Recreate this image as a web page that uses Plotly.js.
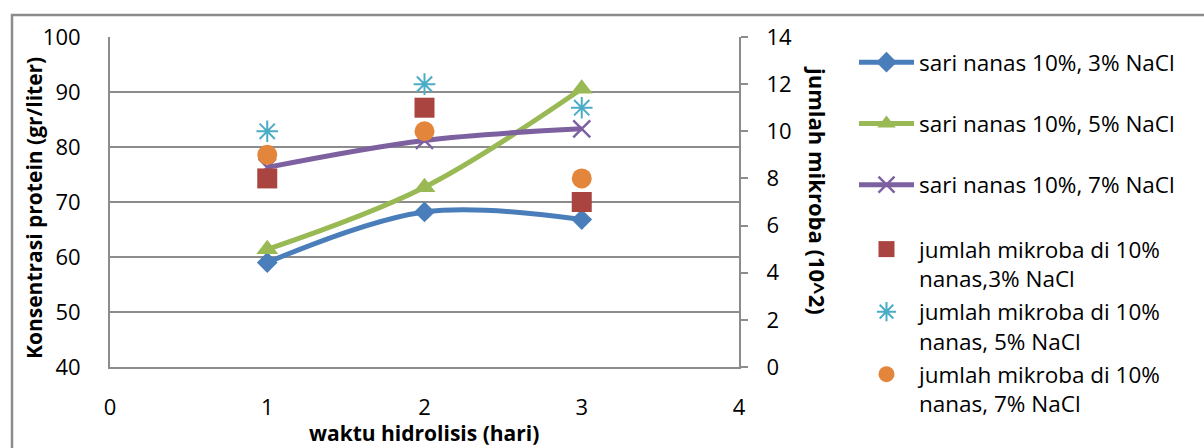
<!DOCTYPE html>
<html>
<head>
<meta charset="utf-8">
<script src="https://cdn.plot.ly/plotly-3.0.1.min.js"></script>
<style>html,body{margin:0;padding:0;background:#fff;} #chart{width:1204px;height:448px;}</style>
</head>
<body>
<div id="chart"></div>
<script>
// Data
const days = [1, 2, 3];
const protein3 = [59.0, 68.2, 66.8];
const protein5 = [61.4, 72.7, 90.6];
const protein7 = [76.3, 81.2, 83.3];
const mikroba3 = [8, 11, 7];
const mikroba5 = [10, 12, 11];
const mikroba7 = [9, 10, 8];
const xTicks = [0, 1, 2, 3, 4];

const FONT = 'Open Sans, sans-serif';
const FS = 22;
const GRAY = '#8c8c8c';

// plot area pixel geometry (from reference)
const PL = 110, PR = 739, PT = 37, PB = 367;
const px = v => (v - PL) / (PR - PL);
const py = v => (PB - v) / (PB - PT);

const lineTrace = (y, name, color, symbol, msize, grp) => ({
  x: days, y: y, name: name, type: 'scatter', mode: 'lines+markers',
  line: {color: color, width: 5, shape: 'spline', smoothing: 1},
  marker: {symbol: symbol, size: msize, color: color, line: {color: color, width: symbol.indexOf('open') >= 0 ? 2.4 : 0}},
  legend: 'legend', legendgroup: grp, xaxis: 'x', yaxis: 'y'
});
const markTrace = (y, name, color, symbol, msize, grp) => ({
  x: days, y: y, name: name, type: 'scatter', mode: 'markers',
  marker: {symbol: symbol, size: msize, color: color, line: {color: color, width: symbol.indexOf('open') >= 0 ? 2 : 0}},
  legend: 'legend2', legendgroup: grp, xaxis: 'x', yaxis: 'y2'
});

const data = [
  lineTrace(protein3, 'sari nanas 10%, 3% NaCl', '#4A7EBB', 'diamond', 16, 'a'),
  lineTrace(protein5, 'sari nanas 10%, 5% NaCl', '#98B954', 'triangle-up', 19, 'b'),
  lineTrace(protein7, 'sari nanas 10%, 7% NaCl', '#7D60A0', 'x-thin-open', 17, 'c'),
  markTrace(mikroba3, 'jumlah mikroba di 10%<br>nanas,3% NaCl', '#AA4441', 'square', 20, 'd'),
  markTrace(mikroba5, 'jumlah mikroba di 10%<br>nanas, 5% NaCl', '#4BACC6', 'asterisk-open', 18, 'e'),
  markTrace(mikroba7, 'jumlah mikroba di 10%<br>nanas, 7% NaCl', '#E3853A', 'circle', 20, 'f')
];

const layout = {
  width: 1204, height: 448,
  margin: {l: PL, r: 1204 - PR, t: PT, b: 448 - PB, pad: 0},
  paper_bgcolor: '#fff', plot_bgcolor: '#fff',
  font: {family: FONT, size: FS, color: '#000'},
  showlegend: true,
  xaxis: {
    range: [0, 4], tickvals: xTicks, ticktext: xTicks.map(String),
    showgrid: false, zeroline: false, showline: true, linecolor: GRAY, linewidth: 2,
    ticks: '', ticklabelstandoff: 20, tickfont: {family: FONT, size: FS}, fixedrange: true
  },
  yaxis: {
    range: [40, 100], dtick: 10, tick0: 40,
    showgrid: true, gridcolor: GRAY, gridwidth: 2, zeroline: false,
    showline: true, linecolor: GRAY, linewidth: 2, ticks: '',
    ticklabelstandoff: 23, tickfont: {family: FONT, size: FS}
  },
  yaxis2: {
    range: [0, 14], dtick: 2, tick0: 0, overlaying: 'y', side: 'right',
    showgrid: false, zeroline: false, showline: true, linecolor: GRAY, linewidth: 2,
    ticks: 'outside', ticklen: 7, tickwidth: 2, tickcolor: GRAY,
    ticklabelstandoff: 14, tickfont: {family: FONT, size: FS}
  },
  legend: {
    x: px(854), y: py(41), xanchor: 'left', yanchor: 'top',
    bgcolor: 'rgba(0,0,0,0)', borderwidth: 0, itemwidth: 55,
    traceorder: 'grouped', tracegroupgap: 29, valign: 'middle',
    font: {family: FONT, size: 22.5}, itemclick: false, itemdoubleclick: false
  },
  legend2: {
    x: px(854), y: py(228), xanchor: 'left', yanchor: 'top',
    bgcolor: 'rgba(0,0,0,0)', borderwidth: 0, itemwidth: 55,
    traceorder: 'grouped', tracegroupgap: 1, valign: 'top',
    font: {family: FONT, size: 22.5}, itemclick: false, itemdoubleclick: false
  },
  shapes: [{
    type: 'rect', xref: 'paper', yref: 'paper',
    x0: px(12), x1: px(1210), y0: py(460), y1: py(15),
    line: {color: GRAY, width: 2.5}, fillcolor: 'rgba(0,0,0,0)', layer: 'below'
  }],
  annotations: [
    {text: 'Konsentrasi protein (gr/liter)', xref: 'paper', yref: 'paper', x: px(34), y: py(208),
     textangle: -90, showarrow: false, xanchor: 'center', yanchor: 'middle',
     font: {family: FONT, size: 21, weight: 'bold'}},
    {text: 'jumlah mikroba (10^2)', xref: 'paper', yref: 'paper', x: px(818), y: py(190),
     textangle: 90, showarrow: false, xanchor: 'center', yanchor: 'middle',
     font: {family: FONT, size: 22, weight: 'bold'}},
    {text: 'waktu hidrolisis (hari)', xref: 'paper', yref: 'paper', x: px(424), y: py(433),
     showarrow: false, xanchor: 'center', yanchor: 'middle',
     font: {family: FONT, size: 21, weight: 'bold'}}
  ]
};

Plotly.newPlot('chart', data, layout, {staticPlot: true, displayModeBar: false});
</script>
</body>
</html>
